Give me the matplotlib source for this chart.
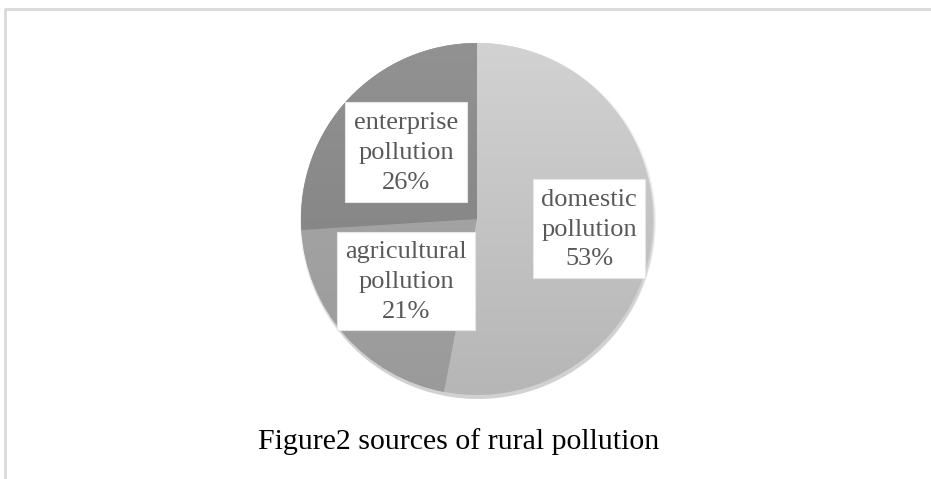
import numpy as np
import matplotlib.pyplot as plt
from matplotlib.patches import Rectangle, Circle
from matplotlib.colors import LinearSegmentedColormap

# 数据
names = ["domestic\npollution", "agricultural\npollution", "enterprise\npollution"]
shares = [53, 21, 26]
# 每块的渐变色（上 -> 下）
tops = ["#d2d2d2", "#ababab", "#929292"]
bottoms = ["#b6b6b6", "#9a9a9a", "#7e7e7e"]
title = "Figure2 sources of rural pollution"

fig = plt.figure(figsize=(9.31, 4.79), dpi=100)
ax = fig.add_axes([0, 0, 1, 1])

cx, cy, r = 477, 260, 176

# 阴影
for i, a in enumerate([0.05, 0.06, 0.08]):
    ax.add_patch(Circle((cx + 1, cy - 2 - i), r + 2 - i, color="black", alpha=a, lw=0, zorder=1))

wedges, _ = ax.pie(shares, startangle=90, counterclock=False, center=(cx, cy),
                   radius=r, colors=tops, wedgeprops=dict(linewidth=0),
                   frame=True)
ax.set_xlim(0, 931)
ax.set_ylim(0, 479)
ax.set_aspect("equal")
ax.axis("off")

# 外框（只露出上边和左边）
ax.plot([5, 5, 931], [-5, 470, 470], color="#d9d9d9", lw=2, zorder=0)

# 渐变填充
grad = np.linspace(1, 0, 256).reshape(-1, 1)
for w, c1, c2 in zip(wedges, tops, bottoms):
    w.set_zorder(2)
    cmap = LinearSegmentedColormap.from_list("g", [c2, c1])
    im = ax.imshow(grad, cmap=cmap, extent=(cx - r, cx + r, cy - r, cy + r),
                   origin="upper", aspect="auto", zorder=3)
    im.set_clip_path(w)

# 标签框 (x0, x1, y0, y1) 像素，y 从上往下
boxes = [(533, 645, 179, 278), (337, 475, 232, 330), (345, 467, 102, 202)]
for name, val, (x0, x1, y0, y1) in zip(names, shares, boxes):
    ax.add_patch(Rectangle((x0, 479 - y1), x1 - x0, y1 - y0, facecolor="white",
                           edgecolor="#e6e6e6", lw=0.8, zorder=4))
    ax.text((x0 + x1) / 2, 479 - (y0 + y1) / 2 - 1, f"{name}\n{val}%", ha="center", va="center",
            family="Liberation Serif", fontsize=19, color="#595959", linespacing=1.45, zorder=5)

ax.text(459, 479 - 442, title, ha="center", va="center", family="Liberation Serif",
        fontsize=21.5, color="black")

fig.savefig("out.png", dpi=100)
